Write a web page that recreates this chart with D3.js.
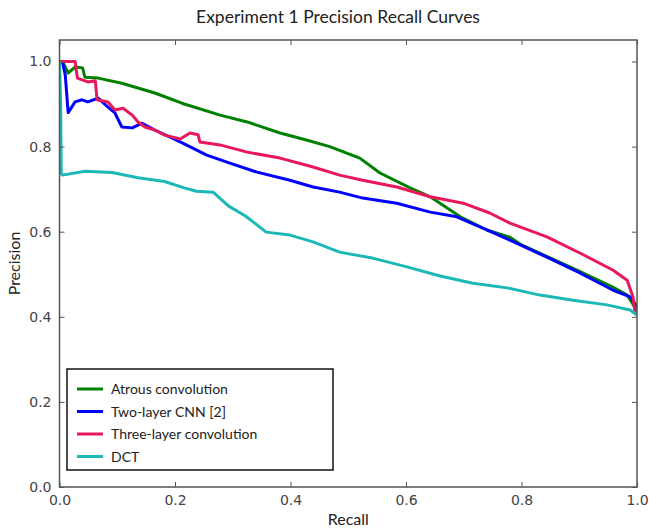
<!DOCTYPE html>
<meta charset='utf-8'>
<style>
  body { margin:0; background:#fff; }
  .tick text { font-family:'DejaVu Sans', sans-serif; font-size:14px; fill:#444; }
  .tick line { stroke:#555; }
  .lbl { font-family:Lato, 'Open Sans', sans-serif; fill:#222; }
</style>
<body>
  <script src='https://d3js.org/d3.v7.min.js' charset='utf-8'></script>
  <script>

    var width = 649;
    var height = 529;

    // recall values and precision values per curve
    var atrousR = [0, 0.005, 0.015, 0.027, 0.040, 0.044, 0.067, 0.108, 0.165, 0.212, 0.278, 0.325, 0.382, 0.429, 0.468, 0.52, 0.555, 0.607, 0.642, 0.694, 0.74, 0.78, 0.80, 0.896, 0.958, 0.983, 0.996, 1.0];
    var atrousP = [1.0, 1.0, 0.973, 0.987, 0.985, 0.963, 0.961, 0.949, 0.926, 0.902, 0.874, 0.858, 0.832, 0.815, 0.80, 0.773, 0.738, 0.703, 0.682, 0.635, 0.604, 0.587, 0.569, 0.51, 0.47, 0.451, 0.423, 0.41];

    var twoR = [0, 0.005, 0.010, 0.015, 0.027, 0.039, 0.049, 0.067, 0.084, 0.096, 0.108, 0.126, 0.143, 0.165, 0.209, 0.255, 0.295, 0.342, 0.399, 0.439, 0.485, 0.525, 0.584, 0.642, 0.688, 0.74, 0.78, 0.844, 0.901, 0.958, 0.988, 0.996, 1.0];
    var twoP = [1.0, 1.0, 0.968, 0.88, 0.905, 0.91, 0.905, 0.914, 0.893, 0.879, 0.846, 0.844, 0.855, 0.839, 0.811, 0.78, 0.761, 0.74, 0.721, 0.705, 0.693, 0.679, 0.667, 0.646, 0.635, 0.604, 0.58, 0.54, 0.503, 0.463, 0.447, 0.432, 0.42];

    var threeR = [0, 0.005, 0.027, 0.031, 0.049, 0.062, 0.065, 0.084, 0.096, 0.11, 0.126, 0.136, 0.148, 0.165, 0.182, 0.209, 0.226, 0.24, 0.243, 0.278, 0.325, 0.382, 0.439, 0.485, 0.525, 0.584, 0.642, 0.699, 0.745, 0.78, 0.844, 0.901, 0.958, 0.983, 0.993, 0.996, 1.0];
    var threeP = [1.0, 1.0, 1.0, 0.961, 0.952, 0.955, 0.91, 0.905, 0.886, 0.89, 0.874, 0.858, 0.846, 0.839, 0.827, 0.818, 0.832, 0.828, 0.811, 0.804, 0.787, 0.773, 0.752, 0.733, 0.721, 0.705, 0.682, 0.667, 0.644, 0.62, 0.588, 0.55, 0.51, 0.486, 0.447, 0.416, 0.41];

    var dctR = [0, 0.002, 0.003, 0.005, 0.044, 0.091, 0.136, 0.182, 0.216, 0.237, 0.266, 0.293, 0.322, 0.358, 0.399, 0.439, 0.485, 0.542, 0.6, 0.659, 0.716, 0.775, 0.832, 0.889, 0.948, 0.988, 1.0];
    var dctP = [1.0, 0.9, 0.737, 0.733, 0.742, 0.739, 0.727, 0.718, 0.703, 0.695, 0.693, 0.66, 0.637, 0.599, 0.592, 0.576, 0.552, 0.538, 0.518, 0.496, 0.479, 0.468, 0.451, 0.439, 0.428, 0.416, 0.404];

    var names = ['Atrous convolution', 'Two-layer CNN [2]', 'Three-layer convolution', 'DCT'];
    var colors = ['#008000', '#0000ff', '#e8185a', '#1cb8b8'];
    var tickVals = [0, 0.2, 0.4, 0.6, 0.8, 1.0];

    var series = [
      [atrousR, atrousP],
      [twoR, twoP],
      [threeR, threeP],
      [dctR, dctP]
    ];

    var svg = d3.select('body').append('svg')
      .attr('width',width)
      .attr('height',height);

    var x = d3.scaleLinear().domain([0,1]).range([59.5, 637]);
    var y = d3.scaleLinear().domain([0,1]).range([487, 61.5]);
    var yTop = 40;

    // title
    svg.append('text')
      .attr('class','lbl')
      .attr('x',338).attr('y',23)
      .attr('text-anchor','middle')
      .style('font-size','17.5px')
      .text('Experiment 1 Precision Recall Curves');

    var line = d3.line()
      .x(d => x(d[0]))
      .y(d => y(d[1]));

    var plot = svg.append('g');
    plot.append('clipPath').attr('id','clip')
      .append('rect')
      .attr('x',x(0)).attr('y',yTop)
      .attr('width',x(1)-x(0)).attr('height',y(0)-yTop);

    series.forEach((s,i) => {
      var pts = s[0].map((r,j) => [r, s[1][j]]);
      plot.append('path')
        .datum(pts)
        .attr('d', line)
        .attr('fill','none')
        .attr('stroke', colors[i])
        .attr('stroke-width', 3)
        .attr('stroke-linejoin','round')
        .attr('clip-path','url(#clip)');
    });

    // axes (ticks pointing inward like matplotlib classic)
    var fmt = d3.format('.1f');
    var axB = svg.append('g').attr('transform','translate(0,'+y(0)+')')
      .call(d3.axisBottom(x).tickValues(tickVals).tickFormat(fmt).tickSizeInner(-5).tickSizeOuter(0).tickPadding(8));
    var axL = svg.append('g').attr('transform','translate('+x(0)+',0)')
      .call(d3.axisLeft(y).tickValues(tickVals).tickFormat(fmt).tickSizeInner(-5).tickSizeOuter(0).tickPadding(8));
    var axT = svg.append('g').attr('transform','translate(0,'+yTop+')')
      .call(d3.axisTop(x).tickValues(tickVals).tickFormat('').tickSizeInner(-5).tickSizeOuter(0));
    var axR = svg.append('g').attr('transform','translate('+x(1)+',0)')
      .call(d3.axisRight(y).tickValues(tickVals).tickFormat('').tickSizeInner(-5).tickSizeOuter(0));
    [axB,axL,axT,axR].forEach(g => g.select('.domain').remove());

    svg.append('rect')
      .attr('x',x(0)).attr('y',yTop)
      .attr('width',x(1)-x(0)).attr('height',y(0)-yTop)
      .attr('fill','none')
      .attr('stroke','#555')
      .attr('stroke-width',1.5);

    // axis labels
    svg.append('text')
      .attr('class','lbl')
      .attr('x',(x(0)+x(1))/2).attr('y',525)
      .attr('text-anchor','middle')
      .style('font-size','16px')
      .text('Recall');
    svg.append('text')
      .attr('class','lbl')
      .attr('transform','translate(20,'+((y(0)+yTop)/2)+') rotate(-90)')
      .attr('text-anchor','middle')
      .style('font-size','16px')
      .text('Precision');

    // legend
    var lg = svg.append('g');
    lg.append('rect')
      .attr('x',67).attr('y',369)
      .attr('width',266).attr('height',101)
      .attr('fill','#fff')
      .attr('stroke','#111')
      .attr('stroke-width',1.5);
    names.forEach((n,i) => {
      var yy = 389 + i*22.5;
      lg.append('line')
        .attr('x1',77).attr('x2',103)
        .attr('y1',yy).attr('y2',yy)
        .attr('stroke',colors[i])
        .attr('stroke-width',3);
      lg.append('text')
        .attr('class','lbl')
        .attr('x',111).attr('y',yy+5)
        .style('font-size','14px')
        .text(n);
    });
  </script>
</body>
